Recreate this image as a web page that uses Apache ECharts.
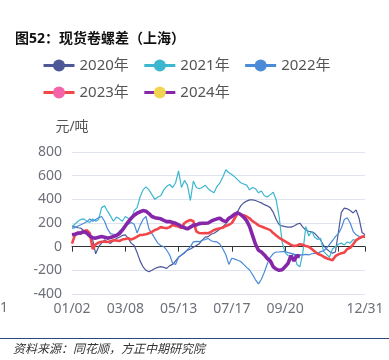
<!DOCTYPE html>
<html>
<head>
<meta charset="utf-8">
<style>
html,body{margin:0;padding:0;background:#fff;}
#chart{width:389px;height:360px;}
</style>
<script src="https://cdn.jsdelivr.net/npm/echarts@6/dist/echarts.min.js"></script>
</head>
<body>
<div id="chart"></div>
<script>
// tick labels and their category positions
const tickLabels = ['01/02','03/08','05/13','07/17','09/20','11/24','12/31'];
const tickIdx = [0,18,36,54,72,90,99];
const shownLabelIdx = [0,18,36,54,72,99];

const seriesNames = ['2020年','2021年','2022年','2023年','2024年'];

const s2020 = [170,168,160,156,135,115,99,57,-60,0,30,57,40,28,50,70,80,95,99,70,
30,10,-50,-120,-170,-200,-212,-200,-185,-175,-169,-175,-183,-160,-150,-120,-90,-70,-50,-30,
-20,-5,10,25,55,80,85,105,113,130,150,170,195,230,255,275,300,345,370,385,
395,395,390,380,370,355,345,330,290,230,185,175,170,165,165,175,190,198,165,141,
130,125,113,85,57,10,-20,-40,-55,-45,120,290,325,320,305,285,311,240,120,100];

const s2021 = [170,190,215,230,235,215,205,235,215,230,330,345,300,260,215,250,235,215,255,240,
230,305,330,420,480,505,480,440,400,420,430,480,510,525,500,540,640,500,560,520,
390,555,500,490,500,520,490,470,455,510,540,590,650,625,610,590,565,540,530,520,
480,500,490,455,470,430,420,440,460,395,250,40,-50,-75,-80,-60,-150,-170,-50,170,
90,130,80,60,70,-40,-65,-90,-20,0,20,30,15,40,30,60,50,70,75,100];

const s2022 = [155,160,175,185,198,210,235,215,230,245,255,215,150,110,105,100,130,150,185,190,
205,190,115,180,230,255,150,110,70,30,10,0,-30,-70,-140,-150,-90,-70,-55,-25,
0,40,45,42,55,60,70,50,42,40,20,-20,-70,-150,-98,-105,-115,-125,-150,-175,
-197,-235,-280,-315,-275,-215,-145,-90,-58,-45,-45,-42,-42,-50,-56,-65,-70,-70,-70,-65,
-70,-60,-56,-55,-42,-35,-14,20,50,85,110,155,230,245,200,130,100,85,82,85];

const s2023 = [25,100,120,110,130,140,115,-20,20,35,42,42,40,45,55,52,48,60,65,71,
60,71,85,99,100,105,113,125,141,150,165,160,156,165,184,175,170,156,200,215,
225,215,130,115,113,115,113,125,141,150,156,160,175,185,200,240,285,270,265,255,
240,215,200,180,170,160,150,140,115,95,75,60,45,30,15,5,10,20,15,5,
0,-20,-40,-60,-70,-85,-98,-107,-115,-80,-65,-55,-50,-20,-10,20,55,70,85,85];

const s2024 = [100,105,113,118,127,115,90,75,72,80,85,80,72,78,85,95,110,140,175,210,
240,265,283,295,305,300,280,255,245,240,235,222,212,212,205,198,185,170,160,150,
165,180,184,195,198,198,200,215,226,235,240,220,212,240,255,275,285,272,250,220,
170,95,20,-30,-45,-70,-100,-120,-170,-190,-200,-195,-170,-141,-75,-120,-75,-85];

// build category dates between the tick anchors (year 2024 calendar)
function dayOf(s){const [m,d]=s.split('/').map(Number);return (Date.UTC(2024,m-1,d)-Date.UTC(2024,0,1))/86400000;}
function fmt(n){const dt=new Date(Date.UTC(2024,0,1)+n*86400000);const m=dt.getUTCMonth()+1,d=dt.getUTCDate();return (m<10?'0':'')+m+'/'+(d<10?'0':'')+d;}
const categories=[];
for(let k=0;k<tickIdx.length-1;k++){
  const a=dayOf(tickLabels[k]),b=dayOf(tickLabels[k+1]);
  const n=tickIdx[k+1]-tickIdx[k];
  for(let j=0;j<n;j++){categories.push(j===0?tickLabels[k]:fmt(Math.round(a+(b-a)*j/n)));}
}
categories.push(tickLabels[tickLabels.length-1]);

const lineColors=['#4e5798','#3db6cf','#4a8ad6','#f2474a','#8527a8'];
const iconColors=['#4e5798','#3db6cf','#4a8ad6','#f464a8','#f2d452'];
const widths=[1.2,1.2,1.2,2.6,3.6];
const dataList=[s2020,s2021,s2022,s2023,s2024];

const FONT='"Noto Sans","Noto Sans CJK SC",sans-serif';
function legendItems(idx){return idx.map(i=>({name:seriesNames[i],itemStyle:{color:iconColors[i]},lineStyle:{color:lineColors[i],width:3}}));}
const legendBase={left:37,itemWidth:31,itemHeight:15,itemGap:14,
  textStyle:{fontSize:15,color:'#555',fontFamily:FONT}};
const chart=echarts.init(document.getElementById('chart'),null,{renderer:'canvas'});
chart.setOption({
  animation:false,
  backgroundColor:'#fff',
  textStyle:{fontFamily:FONT},
  title:{text:'图52：现货卷螺差（上海）',left:10,top:27,textStyle:{fontSize:14,fontWeight:'bold',color:'#111',fontFamily:FONT}},
  legend:[
    Object.assign({},legendBase,{top:53,data:legendItems([0,1,2])}),
    Object.assign({},legendBase,{top:80,data:legendItems([3,4])})
  ],
  grid:{left:72,right:24,top:152,bottom:66},
  xAxis:{
    type:'category',data:categories,boundaryGap:false,
    axisLine:{lineStyle:{color:'#333',width:1}},
    axisTick:{interval:(i)=>tickIdx.includes(i),length:5,lineStyle:{color:'#333'}},
    axisLabel:{interval:(i)=>shownLabelIdx.includes(i),fontSize:14,color:'#6e7079',margin:8,fontFamily:FONT}
  },
  yAxis:{
    type:'value',min:-400,max:800,interval:200,
    name:'元/吨',nameGap:18,nameTextStyle:{fontSize:14,color:'#555',fontFamily:FONT},
    axisLine:{show:false},axisTick:{show:false},
    axisLabel:{fontSize:14,color:'#6e7079',margin:10,fontFamily:FONT},
    splitLine:{lineStyle:{color:'#dfe3f0'}}
  },
  series:dataList.map((d,i)=>({
    name:seriesNames[i],type:'line',data:d,showSymbol:false,symbol:'circle',symbolSize:13,
    itemStyle:{color:iconColors[i]},
    lineStyle:{color:lineColors[i],width:widths[i]},
    z:2+i
  })),
  graphic:[
    {type:'text',left:0,top:301,style:{text:'1',fontSize:14,fill:'#6e7079',fontFamily:FONT}},
    {type:'rect',shape:{x:0,y:338,width:389,height:1},style:{fill:'#2b4a7a'}},
    {type:'text',left:13,top:342,style:{text:'资料来源：同花顺，方正中期研究院',fontSize:12,fontStyle:'italic',fill:'#333',fontFamily:'"Noto Sans CJK SC",sans-serif'}}
  ]
});
</script>
</body>
</html>
